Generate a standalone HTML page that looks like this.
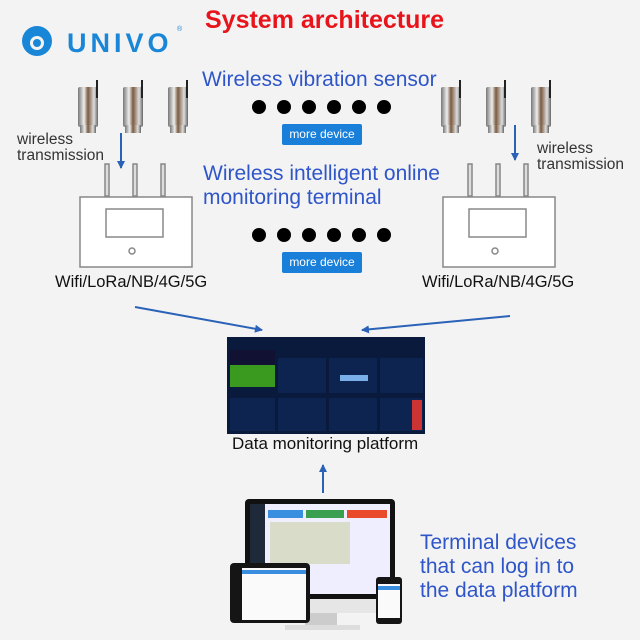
<!DOCTYPE html>
<html><head><style>
body{margin:0;width:640px;height:640px;background:#f3f3f3;position:relative;overflow:hidden;font-family:"Liberation Sans",sans-serif}
.a{position:absolute}
.t{color:#2f56c8;font-size:21px;line-height:24px}
.s{color:#333;font-size:15.5px;line-height:16px}
.btn{position:absolute;background:#1a7fd8;color:#fff;font-size:12px;width:80px;height:21px;line-height:21px;text-align:center;border-radius:2px}
</style></head><body>
<svg class="a" style="left:0;top:0" width="640" height="640">
<defs>
<linearGradient id="m" x1="0" x2="1"><stop offset="0" stop-color="#777"/><stop offset=".3" stop-color="#eee"/><stop offset=".5" stop-color="#7a5a40"/><stop offset=".8" stop-color="#ddd"/><stop offset="1" stop-color="#666"/></linearGradient>
<marker id="ar" markerWidth="8" markerHeight="8" refX="7" refY="4" orient="auto" markerUnits="userSpaceOnUse"><path d="M0,0L8,4L0,8z" fill="#2a62b8"/></marker>
</defs>
<circle cx="37" cy="41" r="15" fill="#1a86d8"/><circle cx="37" cy="43" r="7" fill="#f3f3f3"/><circle cx="37" cy="43" r="4" fill="#1a86d8"/>
<text x="67" y="52" font-family="Liberation Sans" font-size="27" font-weight="bold" fill="#1a86d8" letter-spacing="4">UNIVO</text>
<text x="177" y="31" font-size="7" fill="#1a86d8">®</text>
<g id="sen">
<rect x="78" y="87" width="20" height="40" fill="url(#m)" rx="2"/><rect x="80" y="125" width="16" height="8" fill="url(#m)"/><line x1="97" y1="80" x2="97" y2="98" stroke="#222" stroke-width="2"/>
</g>
<use href="#sen" x="45"/><use href="#sen" x="90"/>
<use href="#sen" x="363"/><use href="#sen" x="408"/><use href="#sen" x="453"/>
<line x1="121" y1="133" x2="121" y2="168" stroke="#2a62b8" stroke-width="2" marker-end="url(#ar)"/>
<line x1="515" y1="125" x2="515" y2="160" stroke="#2a62b8" stroke-width="2" marker-end="url(#ar)"/>
<line x1="135" y1="307" x2="262" y2="330" stroke="#2a62b8" stroke-width="2" marker-end="url(#ar)"/>
<line x1="510" y1="316" x2="362" y2="330" stroke="#2a62b8" stroke-width="2" marker-end="url(#ar)"/>
<line x1="323" y1="493" x2="323" y2="465" stroke="#2a62b8" stroke-width="2" marker-end="url(#ar)"/>
<g id="rt" fill="none" stroke="#888" stroke-width="1.5">
<rect x="80" y="197" width="112" height="70" fill="#fff"/>
<rect x="106" y="209" width="57" height="28"/>
<circle cx="132" cy="251" r="3"/>
<rect x="105" y="164" width="4" height="32" fill="#ddd"/><rect x="133" y="164" width="4" height="32" fill="#ddd"/><rect x="161" y="164" width="4" height="32" fill="#ddd"/>
</g>
<use href="#rt" x="363"/>
<g fill="#000"><circle cx="259" cy="107" r="7"/><circle cx="284" cy="107" r="7"/><circle cx="309" cy="107" r="7"/><circle cx="334" cy="107" r="7"/><circle cx="359" cy="107" r="7"/><circle cx="384" cy="107" r="7"/>
<circle cx="259" cy="235" r="7"/><circle cx="284" cy="235" r="7"/><circle cx="309" cy="235" r="7"/><circle cx="334" cy="235" r="7"/><circle cx="359" cy="235" r="7"/><circle cx="384" cy="235" r="7"/></g>
<rect x="227" y="337" width="198" height="97" fill="#0a1a3c"/>
<rect x="230" y="350" width="45" height="35" fill="#113"/><rect x="230" y="365" width="45" height="22" fill="#3a9a20"/>
<rect x="278" y="358" width="48" height="35" fill="#0d2350"/><rect x="329" y="358" width="48" height="35" fill="#0d2350"/><rect x="380" y="358" width="43" height="35" fill="#0d2350"/>
<rect x="230" y="398" width="45" height="33" fill="#0d2350"/><rect x="278" y="398" width="48" height="33" fill="#0d2350"/><rect x="329" y="398" width="48" height="33" fill="#0d2350"/><rect x="380" y="398" width="43" height="33" fill="#0d2350"/>
<rect x="340" y="375" width="28" height="6" fill="#7ab0e8"/><rect x="412" y="400" width="10" height="30" fill="#c33"/>
<rect x="245" y="499" width="150" height="100" rx="4" fill="#111"/>
<rect x="250" y="504" width="140" height="90" fill="#eef"/>
<rect x="250" y="504" width="15" height="90" fill="#1e2a3a"/>
<rect x="268" y="510" width="35" height="8" fill="#3a8ee0"/><rect x="306" y="510" width="38" height="8" fill="#3aa050"/><rect x="347" y="510" width="40" height="8" fill="#e84a2a"/>
<rect x="270" y="522" width="80" height="42" fill="#d8dcc8"/>
<rect x="245" y="599" width="150" height="14" fill="#e6e6e6"/>
<rect x="305" y="613" width="32" height="12" fill="#ccc"/><rect x="285" y="625" width="75" height="5" fill="#ddd"/>
<rect x="230" y="563" width="80" height="60" rx="4" fill="#151515"/><rect x="242" y="568" width="64" height="52" fill="#fafafa"/><rect x="242" y="570" width="64" height="4" fill="#3a8ee0"/>
<rect x="376" y="577" width="26" height="47" rx="3" fill="#151515"/><rect x="378" y="584" width="22" height="34" fill="#fafafa"/><rect x="378" y="586" width="22" height="4" fill="#3a8ee0"/>
</svg>
<div class="a" style="left:205px;top:6px;color:#e8141c;font-size:25px;font-weight:bold">System architecture</div>
<div class="a t" style="left:202px;top:68px">Wireless vibration sensor</div>
<div class="a t" style="left:203px;top:162px">Wireless intelligent online<br>monitoring terminal</div>
<div class="btn" style="left:282px;top:124px">more device</div>
<div class="btn" style="left:282px;top:252px">more device</div>
<div class="a s" style="left:17px;top:132px">wireless<br>transmission</div>
<div class="a s" style="left:537px;top:141px">wireless<br>transmission</div>
<div class="a" style="left:55px;top:273px;font-size:16.5px;color:#111">Wifi/LoRa/NB/4G/5G</div>
<div class="a" style="left:422px;top:273px;font-size:16.5px;color:#111">Wifi/LoRa/NB/4G/5G</div>
<div class="a" style="left:232px;top:434px;font-size:17px;color:#111">Data monitoring platform</div>
<div class="a t" style="left:420px;top:531px;line-height:24px">Terminal devices<br>that can log in to<br>the data platform</div>
</body></html>
